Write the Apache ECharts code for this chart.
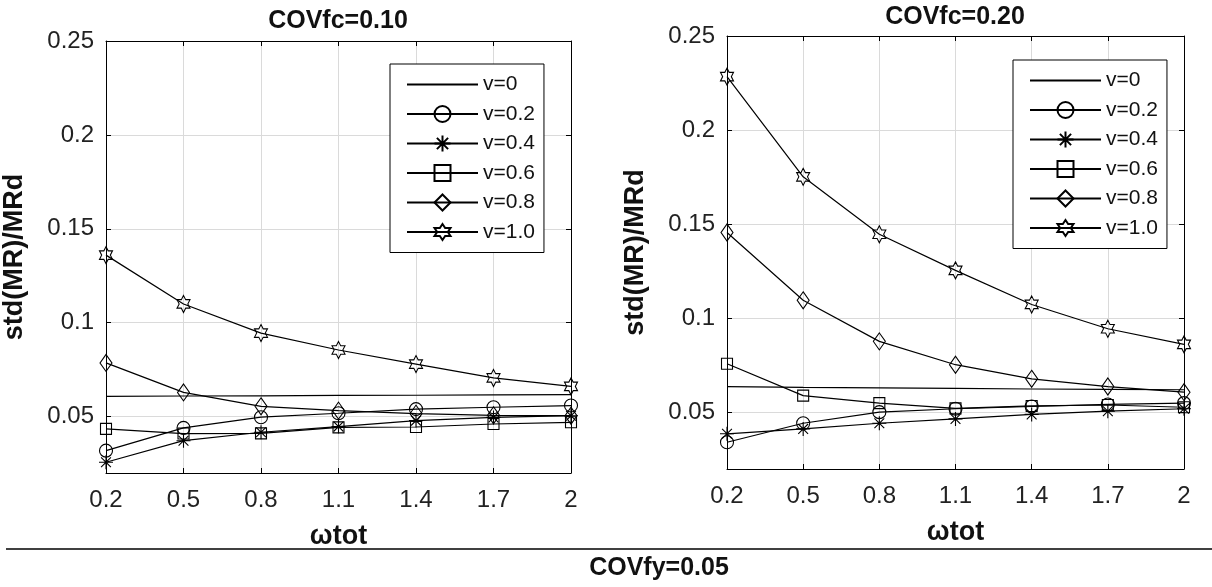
<!DOCTYPE html>
<html>
<head>
<meta charset="utf-8">
<script src="https://cdn.jsdelivr.net/npm/echarts@6/dist/echarts.min.js"></script>
<style>
  html, body { margin: 0; padding: 0; background: #fff; }
  #chart { width: 1212px; height: 587px; }
</style>
</head>
<body>
<div id="chart"></div>
<script>
// x values (ωtot) and tick values
const wtot = [0.2, 0.5, 0.8, 1.1, 1.4, 1.7, 2.0]
const yTicks = [0.05, 0.1, 0.15, 0.2, 0.25]
const seriesNames = ['v=0', 'v=0.2', 'v=0.4', 'v=0.6', 'v=0.8', 'v=1.0']

// COVfc = 0.10
const fc10_v00 = [0.0608, 0.0610, 0.0611, 0.0613, 0.0614, 0.0616, 0.0617]
const fc10_v02 = [0.0319, 0.0440, 0.0497, 0.0518, 0.0540, 0.0550, 0.0559]
const fc10_v04 = [0.0257, 0.0372, 0.0417, 0.0447, 0.0479, 0.0496, 0.0505]
const fc10_v06 = [0.0435, 0.0410, 0.0411, 0.0443, 0.0445, 0.0461, 0.0470]
const fc10_v08 = [0.0786, 0.0629, 0.0555, 0.0532, 0.0516, 0.0507, 0.0505]
const fc10_v10 = [0.1360, 0.1100, 0.0945, 0.0855, 0.0780, 0.0706, 0.0661]

// COVfc = 0.20
const fc20_v00 = [0.0638, 0.0634, 0.0631, 0.0628, 0.0625, 0.0623, 0.0621]
const fc20_v02 = [0.0342, 0.0443, 0.0502, 0.0520, 0.0532, 0.0543, 0.0550]
const fc20_v04 = [0.0387, 0.0413, 0.0443, 0.0466, 0.0490, 0.0507, 0.0520]
const fc20_v06 = [0.0759, 0.0590, 0.0550, 0.0522, 0.0535, 0.0540, 0.0528]
const fc20_v08 = [0.1456, 0.1096, 0.0878, 0.0754, 0.0679, 0.0638, 0.0608]
const fc20_v10 = [0.2284, 0.1752, 0.1447, 0.1255, 0.1074, 0.0945, 0.0862]

const font = "'Liberation Sans', Arial, Helvetica, sans-serif"
const asterisk = 'path://M0,-10L0,10M-10,0L10,0M-7,-7L7,7M-7,7L7,-7'
const hexagram = 'path://M0,-10L2.887,-5L8.66,-5L5.77,0L8.66,5L2.887,5L0,10L-2.887,5L-8.66,5L-5.77,0L-8.66,-5L-2.887,-5Z'
const markers = ['none', 'circle', asterisk, 'rect', 'diamond', hexagram]
const markerSizes = [0, 13, 14, 11, [12, 17], [15, 17]]

const chart = echarts.init(document.getElementById('chart'))

const buildSeries = (groups, gi) =>
  groups.map((vals, i) => ({
    name: seriesNames[i],
    type: 'line',
    xAxisIndex: gi * 2,
    yAxisIndex: gi * 2,
    data: wtot.map((x, k) => [x, vals[k]]),
    symbol: markers[i],
    symbolSize: markerSizes[i],
    symbolKeepAspect: true,
    showSymbol: i > 0,
    lineStyle: { color: '#000', width: 1.2 },
    itemStyle: { color: 'rgba(0,0,0,0)', borderColor: '#000', borderWidth: 1.1 },
    emphasis: { disabled: true },
    z: 3,
  }))

const frameLine = { onZero: false, lineStyle: { color: '#000', width: 1 } }
const inTick = (vals) => ({ inside: true, length: 5, customValues: vals, lineStyle: { color: '#000' } })
const gridLine = { show: true, lineStyle: { color: '#dadada', width: 1 } }
const nameStyle = { fontSize: 27, fontWeight: 'bold', color: '#111', fontFamily: font }

const buildXAxes = (gi) => [
  {
    type: 'value', gridIndex: gi, min: 0.2, max: 2, position: 'bottom',
    name: 'ωtot', nameLocation: 'middle', nameGap: 50,
    nameTextStyle: nameStyle,
    axisLine: frameLine,
    axisTick: inTick(wtot),
    axisLabel: {
      customValues: wtot, margin: 15, fontSize: 24, color: '#222', fontFamily: font,
      formatter: (v) => String(+v.toFixed(1)),
    },
    splitLine: gridLine,
  },
  {
    type: 'value', gridIndex: gi, min: 0.2, max: 2, position: 'top',
    axisLine: frameLine, axisTick: inTick(wtot),
    axisLabel: { show: false }, splitLine: { show: false },
  },
]

const buildYAxes = (gi) => [
  {
    type: 'value', gridIndex: gi, min: 0.02, max: 0.25, position: 'left',
    name: 'std(MR)/MRd', nameLocation: 'middle', nameGap: 78, nameRotate: 90,
    nameTextStyle: nameStyle,
    axisLine: frameLine,
    axisTick: inTick(yTicks),
    axisLabel: { customValues: yTicks, margin: 12, fontSize: 24, color: '#222', fontFamily: font },
    splitLine: gridLine,
  },
  {
    type: 'value', gridIndex: gi, min: 0.02, max: 0.25, position: 'right',
    axisLine: frameLine, axisTick: inTick(yTicks),
    axisLabel: { show: false }, splitLine: { show: false },
  },
]

// v=0 has no marker: hide the legend symbol for it
const legendData = seriesNames.map((name, i) =>
  i === 0 ? { name, itemStyle: { color: 'rgba(0,0,0,0)', borderWidth: 0, opacity: 0 } } : { name }
)

const legendBase = {
  data: legendData,
  orient: 'vertical',
  selectedMode: false,
  backgroundColor: '#fff',
  borderColor: '#000',
  borderWidth: 1,
  borderRadius: 0,
  padding: [10, 9, 10, 16],
  itemWidth: 71,
  itemHeight: 20,
  itemGap: 8.5,
  textStyle: { fontSize: 21, lineHeight: 21, color: '#111', fontFamily: font },
  z: 10,
}

const titleStyle = { fontSize: 25, fontWeight: 'bold', color: '#111', fontFamily: font }

const option = {
  animation: false,
  backgroundColor: '#fff',
  title: [
    { text: 'COVfc=0.10', left: 338, top: 9, textAlign: 'center', padding: 0, textStyle: titleStyle },
    { text: 'COVfc=0.20', left: 955, top: 5, textAlign: 'center', padding: 0, textStyle: titleStyle },
    { text: 'COVfy=0.05', left: 659, top: 556, textAlign: 'center', padding: 0, textStyle: titleStyle },
  ],
  grid: [
    { left: 105, right: 641, top: 41, bottom: 114 },
    { left: 727, right: 28, top: 36, bottom: 118 },
  ],
  legend: [
    { ...legendBase, left: 390, top: 64 },
    { ...legendBase, left: 1013, top: 60 },
  ],
  xAxis: [...buildXAxes(0), ...buildXAxes(1)],
  yAxis: [...buildYAxes(0), ...buildYAxes(1)],
  graphic: [
    {
      type: 'line',
      shape: { x1: 6, y1: 549, x2: 1212, y2: 549 },
      style: { stroke: '#000', lineWidth: 1.5 },
    },
  ],
  series: [
    ...buildSeries([fc10_v00, fc10_v02, fc10_v04, fc10_v06, fc10_v08, fc10_v10], 0),
    ...buildSeries([fc20_v00, fc20_v02, fc20_v04, fc20_v06, fc20_v08, fc20_v10], 1),
  ],
}

chart.setOption(option)
</script>
</body>
</html>
